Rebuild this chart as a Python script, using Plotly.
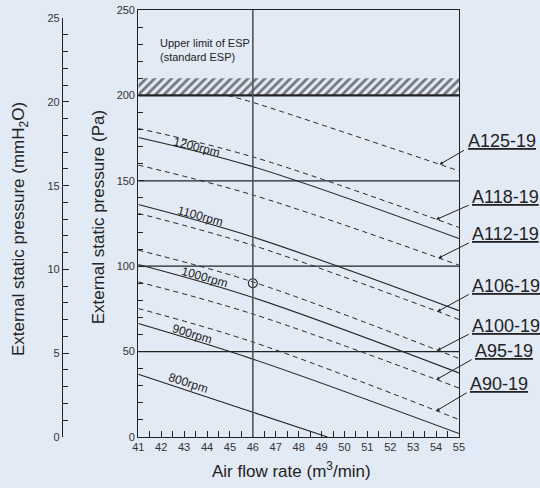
import numpy as np
import plotly.graph_objects as go

# ---------------- data ----------------
flow_ticks = list(range(41, 56))
pa_ticks = [0, 50, 100, 150, 200, 250]
mm_ticks = [0, 5, 10, 15, 20, 25]

# rpm curves (solid)
rpm_names = ["1200rpm", "1100rpm", "1000rpm", "900rpm", "800rpm"]
rpm_x = [[41, 46, 55], [41, 46, 55], [41, 46, 55], [41, 46, 55], [41, 46, 49.26]]
rpm_y = [[175.4, 158.3, 116.2], [136.1, 117.1, 74.0], [101.0, 81.7, 37.5],
         [66.4, 45.6, 2.0], [36.7, 14.5, 0.0]]
rpm_label_x = [43.55, 43.7, 43.87, 43.36, 43.19]
rpm_label_y = [169.9, 129.3, 93.7, 60.6, 31.6]
rpm_label_angle = [14, 15.5, 16, 17, 18]

# model curves (dashed)
model_names = ["A125-19", "A118-19", "A112-19", "A106-19", "A100-19", "A95-19", "A90-19"]
model_x = [[44.9, 46, 55], [41, 46, 55], [41, 46, 55], [41, 46, 55],
           [41, 46, 55], [41, 46, 55], [41, 46, 55]]
model_y = [[200.0, 195.9, 155.8], [180.6, 164.0, 122.7], [159.2, 141.7, 100.6],
           [130.9, 112.2, 68.8], [109.4, 90.8, 45.9], [90.8, 72.0, 28.7],
           [75.2, 55.6, 10.2]]
model_arrow_x = [54.15, 54.0, 54.1, 54.05, 54.05, 54.0, 54.0]
model_tail_dx = [26, 34, 32, 33, 33, 37, 32]
model_tail_dy = [-15, -15, -16, -18, -17, -21, -19]

esp_limit = 200
esp_hatch_top = 210
ref_lines = [50, 100, 150]
ref_flow = 46
op_point_x = [46]
op_point_y = [90]

FONT = "Arial, Liberation Sans, sans-serif"
INK = "#222222"
BG = "#e2eaf6"

fig = go.Figure()

# hatched band
fig.add_trace(go.Scatter(
    x=[41, 55, 55, 41, 41],
    y=[esp_limit, esp_limit, esp_hatch_top, esp_hatch_top, esp_limit],
    fill="toself", mode="lines", line=dict(width=0),
    fillcolor="rgba(0,0,0,0)",
    fillpattern=dict(shape="/", fgcolor="#000000", bgcolor="rgba(0,0,0,0)", size=6, solidity=0.45),
    hoverinfo="skip", showlegend=False))

for xs, ys in zip(rpm_x, rpm_y):
    fig.add_trace(go.Scatter(x=xs, y=ys, mode="lines",
                             line=dict(color=INK, width=1.1, shape="spline"),
                             showlegend=False, hoverinfo="skip"))
for xs, ys in zip(model_x, model_y):
    fig.add_trace(go.Scatter(x=xs, y=ys, mode="lines",
                             line=dict(color=INK, width=1.0, dash="5px,4px", shape="spline"),
                             showlegend=False, hoverinfo="skip"))

fig.add_trace(go.Scatter(x=op_point_x, y=op_point_y, mode="markers",
                         marker=dict(symbol="circle-open", size=9, color=INK, line=dict(width=1.1)),
                         showlegend=False, hoverinfo="skip"))

# invisible trace for mmH2O axis
fig.add_trace(go.Scatter(x=[41], y=[0], yaxis="y2", mode="markers",
                         marker=dict(opacity=0), showlegend=False, hoverinfo="skip"))

# reference lines
for v in ref_lines:
    fig.add_hline(y=v, line=dict(color=INK, width=1.2))
fig.add_hline(y=esp_limit, line=dict(color=INK, width=2.2))
fig.add_vline(x=ref_flow, line=dict(color="#555555", width=1.6))

# rpm labels
for name, lx, ly, ang in zip(rpm_names, rpm_label_x, rpm_label_y, rpm_label_angle):
    fig.add_annotation(x=lx, y=ly, text=name, showarrow=False, textangle=ang,
                       font=dict(family=FONT, size=12, color=INK))

# model labels with leaders
for name, xs, ys, axp, dx, dy in zip(model_names, model_x, model_y, model_arrow_x,
                                     model_tail_dx, model_tail_dy):
    ay_val = float(np.interp(axp, xs, ys))
    fig.add_annotation(x=axp, y=ay_val, ax=dx, ay=dy, text="", showarrow=True,
                       arrowhead=2, arrowsize=0.7, arrowwidth=1, arrowcolor=INK)
    fig.add_annotation(x=axp, y=ay_val, xshift=dx, yshift=-dy - 4, text="<u>" + name + "</u>",
                       showarrow=False, xanchor="left", yanchor="bottom",
                       font=dict(family=FONT, size=18, color=INK))

fig.add_annotation(x=41.87, y=226.6, text="Upper limit of ESP<br>(standard ESP)",
                   showarrow=False, xanchor="left", yanchor="middle", align="left",
                   font=dict(family=FONT, size=11, color=INK))

# axis titles
fig.add_annotation(xref="paper", yref="paper", x=0.6007, y=-0.078, xanchor="center", yanchor="middle",
                   text="Air flow rate (m<sup>3</sup>/min)",
                   showarrow=False, font=dict(family=FONT, size=17, color=INK))
fig.add_annotation(xref="paper", yref="paper", x=0.139, y=0.515, xanchor="center", yanchor="middle",
                   text="External static pressure (Pa)",
                   showarrow=False, textangle=-90, font=dict(family=FONT, size=17, color=INK))
fig.add_annotation(xref="paper", yref="paper", x=-0.0477, y=0.487, xanchor="center", yanchor="middle",
                   text="External static pressure (mmH<sub>2</sub>O)",
                   showarrow=False, textangle=-90, font=dict(family=FONT, size=17, color=INK))

fig.update_layout(
    width=540, height=488,
    margin=dict(l=40, r=81, t=10, b=51, autoexpand=False),
    paper_bgcolor=BG, plot_bgcolor="rgba(0,0,0,0)",
    font=dict(family=FONT, size=11, color="#333333"),
    xaxis=dict(domain=[0.2346, 1], range=[41, 55], tickvals=flow_ticks,
               ticks="inside", ticklen=6, tickcolor=INK, showgrid=False, zeroline=False,
               showline=True, linecolor=INK, linewidth=1.2, mirror=True,
               minor=dict(dtick=0.5, ticks="inside", ticklen=6, tickcolor=INK),
               tickfont=dict(size=11, color="#333333")),
    yaxis=dict(range=[0, 250], tickvals=pa_ticks, ticks="inside", ticklen=6, tickcolor=INK,
               showgrid=False, zeroline=False, showline=True, linecolor=INK, linewidth=1.2,
               mirror=True, minor=dict(dtick=10, ticks="inside", ticklen=5, tickcolor=INK),
               tickfont=dict(size=11, color="#333333")),
    yaxis2=dict(domain=[0, 0.981], range=[0, 25], anchor="free", position=0.0525, side="left",
                tickvals=mm_ticks, ticks="inside", ticklen=6, tickcolor=INK,
                showgrid=False, zeroline=False, showline=True, linecolor=INK, linewidth=1.2,
                minor=dict(dtick=1, ticks="inside", ticklen=5, tickcolor=INK),
                tickfont=dict(size=11, color="#333333")),
)

fig.write_html("out.html", config={"displayModeBar": False},
               post_script="document.body.style.margin='0px';document.body.style.background='" + BG + "';")
